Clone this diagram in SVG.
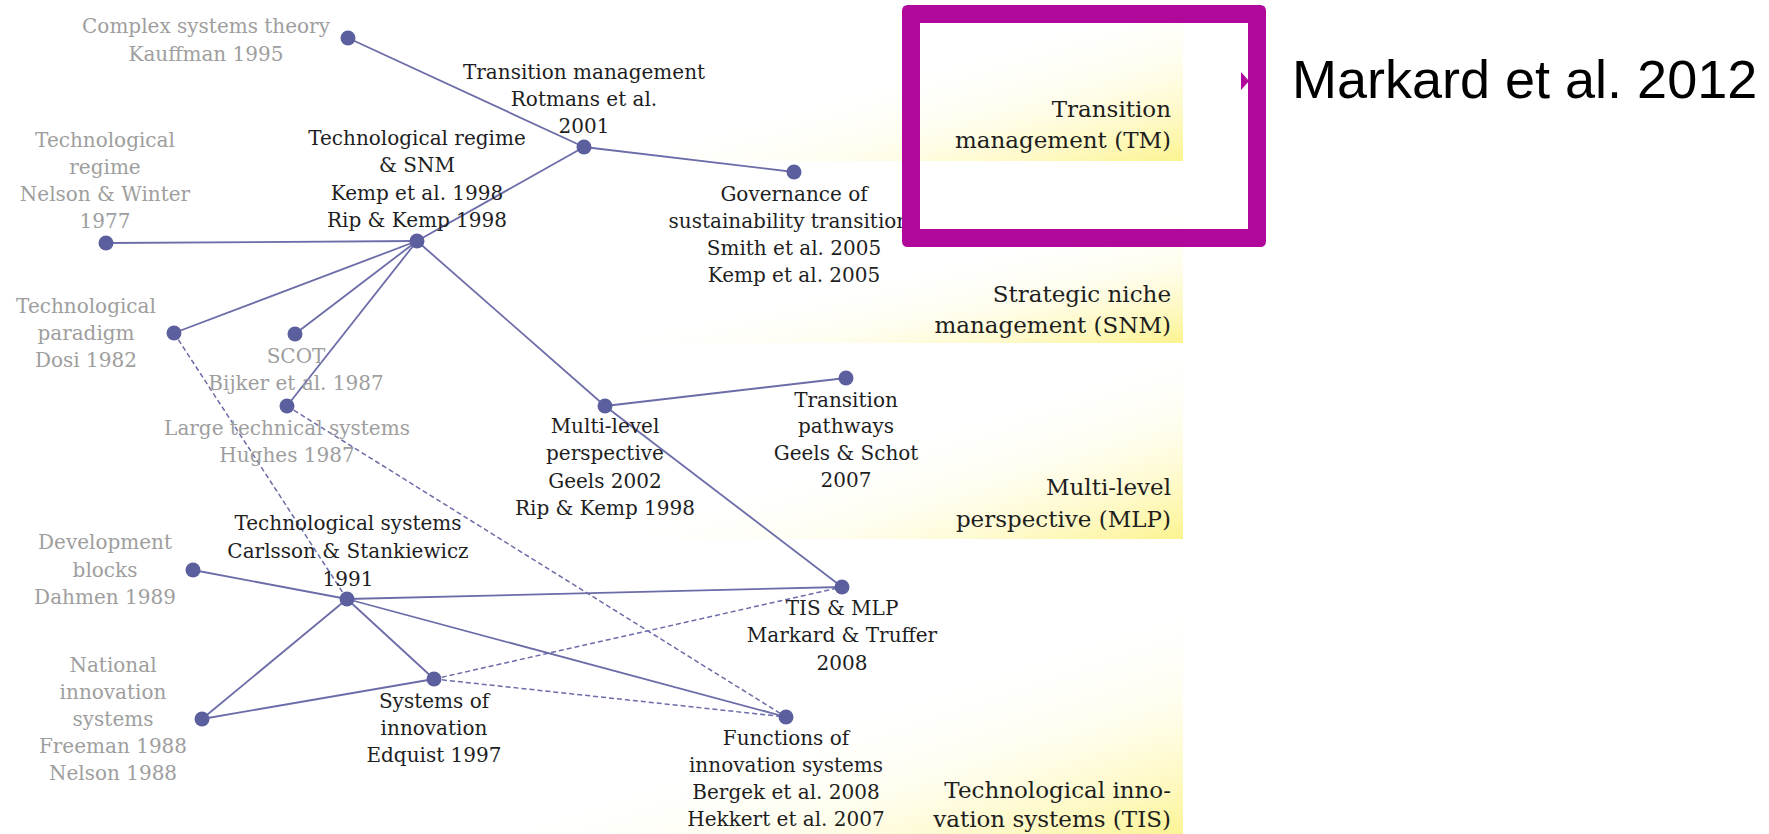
<svg xmlns="http://www.w3.org/2000/svg" width="1769" height="834" viewBox="0 0 1769 834">
<style>
.lbl{font-family:"DejaVu Serif","Liberation Serif",serif;font-size:20px;text-anchor:middle;fill:#1e1e1e}
.gry{fill:#9e9e9e}
.band{font-family:"DejaVu Serif","Liberation Serif",serif;font-size:23px;text-anchor:end;fill:#1e1e1e}
.dot{fill:#5c5f9d}
.edge{stroke:#6b6ca8;stroke-width:1.8;fill:none}
.dash{stroke:#6b6ca8;stroke-width:1.5;fill:none;stroke-dasharray:5 3}
</style>
<defs>
<linearGradient id="gTM" gradientUnits="userSpaceOnUse" x1="1138" y1="7" x2="1183" y2="161">
<stop offset="0" stop-color="#fffde8" stop-opacity="0"/><stop offset="0.35" stop-color="#fffbd0" stop-opacity="0.3"/><stop offset="1" stop-color="#fcf38e"/>
</linearGradient>
<linearGradient id="gSNM" gradientUnits="userSpaceOnUse" x1="1154" y1="216" x2="1183" y2="343">
<stop offset="0" stop-color="#fffde8" stop-opacity="0"/><stop offset="0.35" stop-color="#fffbd0" stop-opacity="0.3"/><stop offset="1" stop-color="#fcf38e"/>
</linearGradient>
<linearGradient id="gMLP" gradientUnits="userSpaceOnUse" x1="1127" y1="368" x2="1183" y2="539">
<stop offset="0" stop-color="#fffde8" stop-opacity="0"/><stop offset="0.35" stop-color="#fffbd0" stop-opacity="0.3"/><stop offset="1" stop-color="#fcf38e"/>
</linearGradient>
<linearGradient id="gTIS" gradientUnits="userSpaceOnUse" x1="1115" y1="631" x2="1183" y2="840">
<stop offset="0" stop-color="#fffde8" stop-opacity="0"/><stop offset="0.35" stop-color="#fffbd0" stop-opacity="0.3"/><stop offset="1" stop-color="#fcf38e"/>
</linearGradient>
</defs>
<rect width="1769" height="834" fill="#ffffff"/>
<g id="bands">
<rect x="560" y="20" width="623" height="141" fill="url(#gTM)"/>
<rect x="560" y="200" width="623" height="143" fill="url(#gSNM)"/>
<rect x="560" y="360" width="623" height="179" fill="url(#gMLP)"/>
<rect x="480" y="560" width="703" height="274" fill="url(#gTIS)"/>
<text class="band" x="1171" y="117">Transition<tspan x="1171" dy="31">management (TM)</tspan></text>
<text class="band" x="1171" y="302">Strategic niche<tspan x="1171" dy="31">management (SNM)</tspan></text>
<text class="band" x="1171" y="495">Multi-level<tspan x="1171" dy="32">perspective (MLP)</tspan></text>
<text class="band" x="1171" y="798">Technological inno-<tspan x="1171" dy="29">vation systems (TIS)</tspan></text>
</g>
<g id="connectors">
<line class="edge" x1="348" y1="38" x2="584" y2="147"/>
<line class="edge" x1="584" y1="147" x2="794" y2="172"/>
<line class="edge" x1="584" y1="147" x2="417" y2="241"/>
<line class="edge" x1="106" y1="243" x2="417" y2="241"/>
<line class="edge" x1="174" y1="333" x2="417" y2="241"/>
<line class="edge" x1="295" y1="334" x2="417" y2="241"/>
<line class="edge" x1="287" y1="406" x2="417" y2="241"/>
<line class="edge" x1="417" y1="241" x2="605" y2="406"/>
<line class="edge" x1="605" y1="406" x2="846" y2="378"/>
<line class="edge" x1="605" y1="406" x2="842" y2="587"/>
<line class="edge" x1="193" y1="570" x2="347" y2="599"/>
<line class="edge" x1="347" y1="599" x2="842" y2="587"/>
<line class="edge" x1="347" y1="599" x2="786" y2="717"/>
<line class="edge" x1="347" y1="599" x2="434" y2="679"/>
<line class="edge" x1="347" y1="599" x2="202" y2="719"/>
<line class="edge" x1="202" y1="719" x2="434" y2="679"/>
<line class="dash" x1="174" y1="333" x2="347" y2="599"/>
<line class="dash" x1="287" y1="406" x2="786" y2="717"/>
<line class="dash" x1="434" y1="679" x2="842" y2="587"/>
<line class="dash" x1="434" y1="679" x2="786" y2="717"/>
</g>
<g id="n-complex"><circle class="dot" cx="348" cy="38" r="7.5"/><text class="lbl gry" x="206" y="33">Complex systems theory<tspan x="206" dy="28">Kauffman 1995</tspan></text></g>
<g id="n-tm"><circle class="dot" cx="584" cy="147" r="7.5"/><text class="lbl" x="584" y="79">Transition management<tspan x="584" dy="27">Rotmans et al.</tspan><tspan x="584" dy="27">2001</tspan></text></g>
<g id="n-gov"><circle class="dot" cx="794" cy="172" r="7.5"/><text class="lbl" x="794" y="201">Governance of<tspan x="794" dy="27">sustainability transitions</tspan><tspan x="794" dy="27">Smith et al. 2005</tspan><tspan x="794" dy="27">Kemp et al. 2005</tspan></text></g>
<g id="n-regime"><circle class="dot" cx="106" cy="243" r="7.5"/><text class="lbl gry" x="105" y="147">Technological<tspan x="105" dy="27">regime</tspan><tspan x="105" dy="27">Nelson &amp; Winter</tspan><tspan x="105" dy="27">1977</tspan></text></g>
<g id="n-snm"><circle class="dot" cx="417" cy="241" r="7.5"/><text class="lbl" x="417" y="145">Technological regime<tspan x="417" dy="27">&amp; SNM</tspan><tspan x="417" dy="28">Kemp et al. 1998</tspan><tspan x="417" dy="27">Rip &amp; Kemp 1998</tspan></text></g>
<g id="n-paradigm"><circle class="dot" cx="174" cy="333" r="7.5"/><text class="lbl gry" x="86" y="313">Technological<tspan x="86" dy="27">paradigm</tspan><tspan x="86" dy="27">Dosi 1982</tspan></text></g>
<g id="n-scot"><circle class="dot" cx="295" cy="334" r="7.5"/><text class="lbl gry" x="296" y="363">SCOT<tspan x="296" dy="27">Bijker et al. 1987</tspan></text></g>
<g id="n-lts"><circle class="dot" cx="287" cy="406" r="7.5"/><text class="lbl gry" x="287" y="435">Large technical systems<tspan x="287" dy="27">Hughes 1987</tspan></text></g>
<g id="n-mlp"><circle class="dot" cx="605" cy="406" r="7.5"/><text class="lbl" x="605" y="433">Multi-level<tspan x="605" dy="27">perspective</tspan><tspan x="605" dy="28">Geels 2002</tspan><tspan x="605" dy="27">Rip &amp; Kemp 1998</tspan></text></g>
<g id="n-pathways"><circle class="dot" cx="846" cy="378" r="7.5"/><text class="lbl" x="846" y="407">Transition<tspan x="846" dy="26">pathways</tspan><tspan x="846" dy="27">Geels &amp; Schot</tspan><tspan x="846" dy="27">2007</tspan></text></g>
<g id="n-devblocks"><circle class="dot" cx="193" cy="570" r="7.5"/><text class="lbl gry" x="105" y="549">Development<tspan x="105" dy="28">blocks</tspan><tspan x="105" dy="27">Dahmen 1989</tspan></text></g>
<g id="n-techsys"><circle class="dot" cx="347" cy="599" r="7.5"/><text class="lbl" x="348" y="530">Technological systems<tspan x="348" dy="28">Carlsson &amp; Stankiewicz</tspan><tspan x="348" dy="28">1991</tspan></text></g>
<g id="n-tismlp"><circle class="dot" cx="842" cy="587" r="7.5"/><text class="lbl" x="842" y="615">TIS &amp; MLP<tspan x="842" dy="27">Markard &amp; Truffer</tspan><tspan x="842" dy="28">2008</tspan></text></g>
<g id="n-nis"><circle class="dot" cx="202" cy="719" r="7.5"/><text class="lbl gry" x="113" y="672">National<tspan x="113" dy="27">innovation</tspan><tspan x="113" dy="27">systems</tspan><tspan x="113" dy="27">Freeman 1988</tspan><tspan x="113" dy="27">Nelson 1988</tspan></text></g>
<g id="n-soi"><circle class="dot" cx="434" cy="679" r="7.5"/><text class="lbl" x="434" y="708">Systems of<tspan x="434" dy="27">innovation</tspan><tspan x="434" dy="27">Edquist 1997</tspan></text></g>
<g id="n-fis"><circle class="dot" cx="786" cy="717" r="7.5"/><text class="lbl" x="786" y="745">Functions of<tspan x="786" dy="27">innovation systems</tspan><tspan x="786" dy="27">Bergek et al. 2008</tspan><tspan x="786" dy="27">Hekkert et al. 2007</tspan></text></g>
<g id="highlight">
<path fill="#b0089b" fill-rule="evenodd" d="M908,5 H1260 Q1266,5 1266,11 V241 Q1266,247 1260,247 H908 Q902,247 902,241 V11 Q902,5 908,5 Z M920,23 V229 H1248 V23 Z"/>
<polygon fill="#b0089b" points="1241,72 1249,81 1241,90"/>
<text x="1292" y="98" font-family="Liberation Sans, Arial, sans-serif" font-size="54" fill="#000000">Markard et al. 2012</text>
</g>
</svg>
